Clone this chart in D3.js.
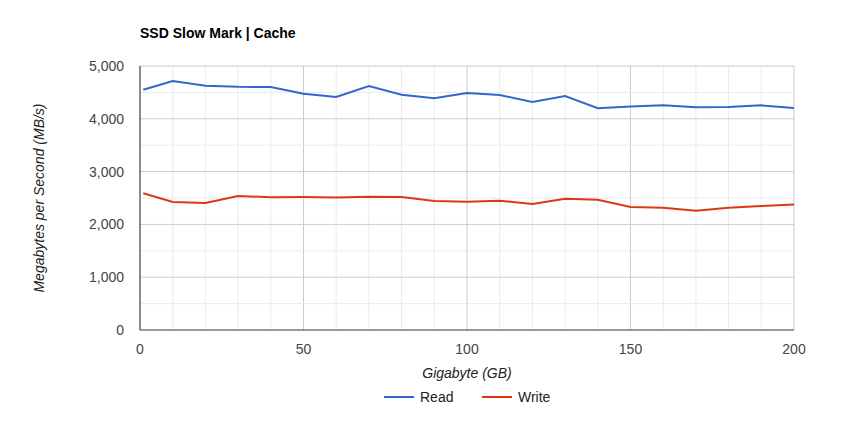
<!DOCTYPE html>
<html>
  <head>
    <meta charset="utf-8" />
    <style>
      body { margin: 0; background: #fff; }
      text { font-family: Arial, "Liberation Sans", sans-serif; }
    </style>
  </head>
  <body>
    <svg width="862" height="425"></svg>
    <script src="https://d3js.org/d3.v7.min.js"></script>
    <script>
      // Data
      const gigabytes = [1, 10, 20, 30, 40, 50, 60, 70, 80, 90, 100, 110, 120, 130, 140, 150, 160, 170, 180, 190, 200];
      const readValues = [4550, 4716, 4625, 4605, 4602, 4475, 4413, 4621, 4455, 4390, 4489, 4450, 4318, 4432, 4200, 4235, 4255, 4220, 4223, 4255, 4205];
      const writeValues = [2590, 2424, 2405, 2538, 2515, 2519, 2510, 2525, 2519, 2443, 2430, 2450, 2386, 2485, 2465, 2330, 2315, 2258, 2315, 2348, 2375];
      const xTicks = [0, 50, 100, 150, 200];
      const yTicks = [0, 1000, 2000, 3000, 4000, 5000];

      const svg = d3.select("svg");
      const plotLeft = 140, plotRight = 794, plotTop = 66, plotBottom = 330;

      const x = d3.scaleLinear().domain([0, 200]).range([plotLeft, plotRight]);
      const y = d3.scaleLinear().domain([0, 5000]).range([plotBottom, plotTop]);

      svg.append("text")
        .attr("x", 140).attr("y", 38)
        .attr("font-size", 14).attr("font-weight", "bold")
        .text("SSD Slow Mark | Cache");

      // grid
      const g = svg.append("g");
      g.selectAll(".vg").data(d3.range(0, 201, 10)).join("line")
        .attr("x1", d => x(d)).attr("x2", d => x(d))
        .attr("y1", plotTop).attr("y2", plotBottom)
        .attr("stroke", d => d % 50 === 0 ? "#ccc" : "#ebebeb");
      g.selectAll(".mg").data(d3.range(500, 5000, 1000)).join("line")
        .attr("x1", plotLeft).attr("x2", plotRight)
        .attr("y1", d => y(d)).attr("y2", d => y(d))
        .attr("stroke", "#ebebeb");
      g.selectAll(".hg").data(yTicks).join("line")
        .attr("x1", plotLeft).attr("x2", plotRight)
        .attr("y1", d => y(d)).attr("y2", d => y(d))
        .attr("stroke", d => d === 0 ? "#333" : "#ccc");
      g.append("line").attr("x1", plotLeft).attr("x2", plotLeft)
        .attr("y1", plotTop).attr("y2", plotBottom).attr("stroke", "#333");

      // axis labels
      svg.selectAll(".yt").data(yTicks).join("text")
        .attr("x", plotLeft - 16).attr("y", d => y(d) + 5)
        .attr("text-anchor", "end").attr("font-size", 14).attr("fill", "#444")
        .text(d => d3.format(",")(d));
      svg.selectAll(".xt").data(xTicks).join("text")
        .attr("x", d => x(d)).attr("y", plotBottom + 24)
        .attr("text-anchor", "middle").attr("font-size", 14).attr("fill", "#444")
        .text(d => d);

      svg.append("text")
        .attr("x", x(100)).attr("y", 378)
        .attr("text-anchor", "middle").attr("font-size", 14)
        .attr("font-style", "italic").attr("fill", "#222")
        .text("Gigabyte (GB)");
      svg.append("text")
        .attr("transform", `translate(44,${(plotTop + plotBottom) / 2}) rotate(-90)`)
        .attr("text-anchor", "middle").attr("font-size", 14)
        .attr("font-style", "italic").attr("fill", "#222")
        .text("Megabytes per Second (MB/s)");

      // lines
      const series = [
        { name: "Read", values: readValues, color: "#3366cc" },
        { name: "Write", values: writeValues, color: "#dc3912" },
      ];
      const line = d3.line().x((d, i) => x(gigabytes[i])).y(d => y(d));
      series.forEach(s => {
        svg.append("path").datum(s.values)
          .attr("fill", "none").attr("stroke", s.color)
          .attr("stroke-width", 2).attr("d", line);
      });

      // legend
      const legendX = [384, 482];
      series.forEach((s, i) => {
        svg.append("line")
          .attr("x1", legendX[i]).attr("x2", legendX[i] + 30)
          .attr("y1", 397).attr("y2", 397)
          .attr("stroke", s.color).attr("stroke-width", 2);
        svg.append("text")
          .attr("x", legendX[i] + 36).attr("y", 402)
          .attr("font-size", 14).attr("fill", "#222")
          .text(s.name);
      });
    </script>
  </body>
</html>
